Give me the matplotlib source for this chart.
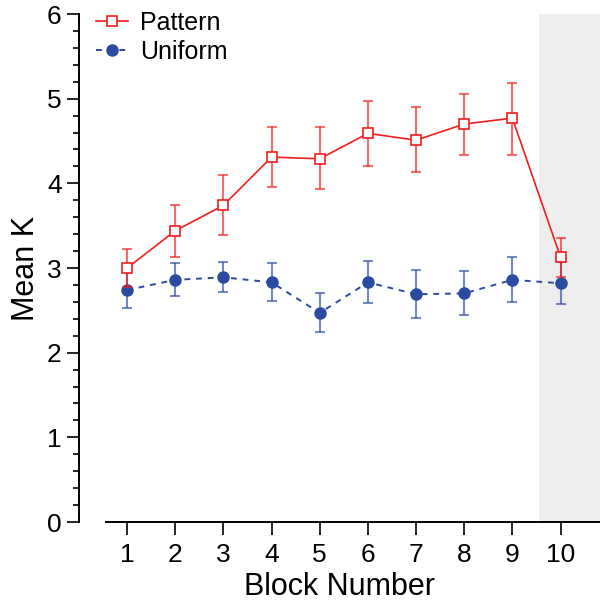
import matplotlib.pyplot as plt
import numpy as np
from matplotlib.ticker import MultipleLocator

plt.rcParams['font.family'] = ['Liberation Sans', 'DejaVu Sans']

blocks = np.arange(1, 11)
pattern = [3.00, 3.44, 3.74, 4.31, 4.29, 4.59, 4.51, 4.70, 4.77, 3.13]
pattern_lo = [2.77, 3.13, 3.39, 3.96, 3.93, 4.21, 4.13, 4.34, 4.34, 2.89]
pattern_hi = [3.23, 3.75, 4.10, 4.67, 4.66, 4.97, 4.90, 5.05, 5.19, 3.36]
uniform = [2.74, 2.86, 2.89, 2.83, 2.47, 2.83, 2.69, 2.70, 2.86, 2.82]
uniform_lo = [2.53, 2.67, 2.72, 2.61, 2.24, 2.59, 2.41, 2.44, 2.60, 2.57]
uniform_hi = [2.95, 3.06, 3.07, 3.06, 2.70, 3.08, 2.98, 2.96, 3.13, 3.07]

red = '#f01e1e'
blue = '#2b4ba0'

fig = plt.figure(figsize=(6, 6.1), dpi=100)
ax = fig.add_axes([79/600, 88/610, 521/600, 508/610])

ax.axvspan(9.55, 10.9, ymin=0, ymax=1, color='#eeeeee', zorder=0, lw=0)

p_err = [np.array(pattern) - np.array(pattern_lo), np.array(pattern_hi) - np.array(pattern)]
u_err = [np.array(uniform) - np.array(uniform_lo), np.array(uniform_hi) - np.array(uniform)]

ax.errorbar(blocks, uniform, yerr=u_err, fmt='none', ecolor=blue, alpha=0.65,
            elinewidth=1.5, capsize=3.7, capthick=1.5, zorder=2)
ax.plot(blocks, uniform, color=blue, ls=(0, (3, 3)), lw=1.4, marker='o', ms=8,
        mfc=blue, mec=blue, label='Uniform', zorder=3)
ax.errorbar(blocks, pattern, yerr=p_err, fmt='none', ecolor=red, alpha=0.65,
            elinewidth=1.5, capsize=3.7, capthick=1.5, zorder=4)
ax.plot(blocks, pattern, color=red, lw=1.2, marker='s', ms=6.5, mfc='white',
        mec=red, mew=1.2, label='Pattern', zorder=5)

ax.set_xlim(0, 10.82)
ax.set_ylim(0, 6)
ax.set_xticks(blocks)
ax.yaxis.set_major_locator(MultipleLocator(1))
ax.yaxis.set_minor_locator(MultipleLocator(0.2))
ax.tick_params(axis='both', which='major', direction='out', length=9, width=1.2, labelsize=19)
ax.tick_params(axis='y', which='minor', direction='out', length=4.5, width=1.2)
ax.tick_params(axis='x', pad=6)

for s in ['top', 'right']:
    ax.spines[s].set_visible(False)
ax.spines['left'].set_linewidth(1.4)
ax.spines['bottom'].set_linewidth(1.4)
ax.spines['left'].set_bounds(0, 6)
ax.spines['bottom'].set_bounds(0.57, 10.82)

ax.set_xlabel('Block Number', fontsize=22, labelpad=4)
ax.set_ylabel('Mean K', fontsize=22, labelpad=4)

h, l = ax.get_legend_handles_labels()
ax.legend(h[::-1], l[::-1], loc='upper left', bbox_to_anchor=(-0.01, 1.05), frameon=False,
          fontsize=18, handlelength=1.25, handletextpad=0.5, labelspacing=0.18)

fig.savefig('out.png', dpi=100)
